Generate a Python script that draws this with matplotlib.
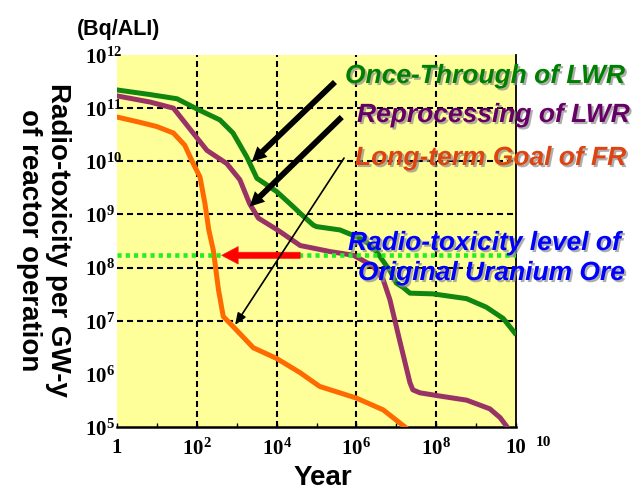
import matplotlib
matplotlib.use('Agg')
import matplotlib.pyplot as plt
import matplotlib.patheffects as pe
from matplotlib.ticker import NullLocator

plt.rcParams['mathtext.fontset'] = 'custom'
plt.rcParams['mathtext.rm'] = 'Liberation Serif:bold'
plt.rcParams['mathtext.it'] = 'Liberation Serif:bold:italic'
plt.rcParams['mathtext.bf'] = 'Liberation Serif:bold'

# Once-through of LWR
once_years = [1, 6.8, 32, 105, 380, 810, 1800, 3200, 1e4, 2.6e4, 3.9e4, 8.3e4, 1e5,
              3.9e5, 1.2e6, 1.8e6, 3.2e6, 5.8e6, 6.9e6, 1e7, 1.5e7, 2.2e7, 8.3e7,
              5.8e8, 1.8e9, 4.8e9, 9.3e9]
once_tox = [2.2e11, 1.8e11, 1.5e11, 9.5e10, 6e10, 3.4e10, 1.2e10, 4.8e9, 2.7e9, 1.4e9,
            1.05e9, 6.3e8, 5.9e8, 5.1e8, 3.6e8, 3e8, 2e8, 1.05e8, 8.9e7, 5.1e7, 4.2e7,
            3.3e7, 3.2e7, 2.6e7, 1.8e7, 1.1e7, 5.9e6]

# Reprocessing of LWR
repro_years = [1, 6.8, 26, 81, 180, 560, 1200, 2100, 3500, 1.1e4, 3.9e4, 2.2e5, 8.5e5,
               2.6e6, 4.7e6, 6.9e6, 1.2e7, 2.2e7, 2.6e7, 3.9e7, 1.3e8, 5.8e8, 2.2e9,
               4e9, 6e9]
repro_tox = [1.7e11, 1.3e11, 1e11, 3.4e10, 1.6e10, 9.1e9, 4.5e9, 1.6e9, 8.5e8, 5e8,
             2.6e8, 2e8, 1.7e8, 1.07e8, 5.9e7, 2.5e7, 4.4e6, 6.8e5, 5e5, 4.4e5, 3.8e5,
             3.2e5, 2.2e5, 1.5e5, 1e5]

# Long-term goal of FR
fr_years = [1, 3.8, 10, 26, 50, 81, 120, 160, 200, 260, 350, 460, 810, 2600, 1e4,
            3.9e4, 1.2e5, 1e6, 4.7e6, 1.8e7]
fr_tox = [6.8e10, 5.4e10, 4.5e10, 3.4e10, 2e10, 9.1e9, 5.1e9, 1.6e9, 5.1e8, 2.1e8,
          3.8e7, 1.2e7, 7.8e6, 3.1e6, 1.95e6, 1.05e6, 5.8e5, 3.5e5, 2.1e5, 9.5e4]

ore_level = 1.7e8
red_arrow = [(3.9e4, ore_level), (420, ore_level)]
black_arrows = [((2.9e5, 3.1e11), (2400, 9.8e9)),
                ((4.3e5, 6.8e10), (2100, 1.4e9))]
thin_arrow = ((4.9e5, 1.15e10), (910, 8.3e6))

x_ticks = [10.0 ** k for k in range(11)]
x_labels = ['1', '', r'$10^{2}$', '', r'$10^{4}$', '', r'$10^{6}$', '', r'$10^{8}$', '', '10']
y_ticks = [10.0 ** k for k in range(5, 13)]
y_labels = [r'$10^{%d}$' % k for k in range(5, 13)]
grid_x = [1e2, 1e4, 1e6, 1e8]
grid_y = [1e7, 1e8, 1e9, 1e10, 1e11]


def fx(x):
    return x / 633


def fy(y):
    return 1 - y / 494


fig = plt.figure(figsize=(6.33, 4.94), dpi=100)
ax = fig.add_axes([117 / 633, 67 / 494, 399 / 633, 372 / 494])
ax.set_facecolor('#FFFF99')
ax.set_xscale('log')
ax.set_yscale('log')
ax.set_xlim(1, 1e10)
ax.set_ylim(1e5, 1e12)

for gx in grid_x:
    ax.axvline(gx, color='k', lw=1.5, ls=(0, (2.9, 1.9)), zorder=1)
for gy in grid_y:
    ax.axhline(gy, color='k', lw=1.5, ls=(0, (2.9, 1.9)), zorder=1)

ax.plot(once_years, once_tox, color='#108510', lw=3.6, zorder=3)
ax.plot(repro_years, repro_tox, color='#993366', lw=3.6, zorder=3)
ax.plot(fr_years, fr_tox, color='#FF6A00', lw=3.6, zorder=3)

ax.axhline(ore_level, color='#22EE22', lw=3.3, ls=(0, (0.9, 0.9)), zorder=4)

ax.annotate('', xy=red_arrow[1], xytext=red_arrow[0],
            arrowprops=dict(arrowstyle='simple,head_length=0.85,head_width=0.9,tail_width=0.32',
                            mutation_scale=14, fc='#FF0000', ec='#FF2020', lw=0.5,
                            shrinkA=0, shrinkB=0), zorder=5)
for start, tip in black_arrows:
    ax.annotate('', xy=tip, xytext=start,
                arrowprops=dict(arrowstyle='simple,head_length=0.75,head_width=0.75,tail_width=0.3',
                                mutation_scale=14, fc='k', ec='k', lw=0,
                                shrinkA=0, shrinkB=0), zorder=5)
ax.annotate('', xy=thin_arrow[1], xytext=thin_arrow[0],
            arrowprops=dict(arrowstyle='-|>,head_length=0.5,head_width=0.2',
                            mutation_scale=14, color='k', lw=1.2,
                            shrinkA=0, shrinkB=0), zorder=5)

# axes styling
for side in ['left', 'top']:
    ax.spines[side].set_visible(False)
ax.spines['bottom'].set_linewidth(1.8)
ax.spines['right'].set_linewidth(1.3)

ax.set_xticks(x_ticks)
ax.set_xticklabels(x_labels, fontfamily='Liberation Serif', fontweight='bold', fontsize=15)
ax.set_yticks(y_ticks)
ax.set_yticklabels(y_labels, fontsize=15)
ax.xaxis.set_minor_locator(NullLocator())
ax.yaxis.set_minor_locator(NullLocator())
ax.tick_params(axis='x', direction='in', length=3, width=1, pad=8, top=False)
ax.tick_params(axis='y', length=0, pad=23)
for lab in ax.get_yticklabels():
    lab.set_ha('left')
ax.annotate('10', xy=(1e10, 0), xycoords=('data', 'axes fraction'), xytext=(20, -11.5),
            textcoords='offset points', ha='center', va='center',
            fontfamily='Liberation Serif', fontweight='bold', fontsize=11)

shadow = [pe.withSimplePatchShadow(offset=(1.5, -1.5), shadow_rgbFace='0.55', alpha=0.7)]
label_font = dict(family='Liberation Sans', weight='bold', style='italic', size=19,
                  va='baseline', ha='left', path_effects=shadow)
fig.text(fx(345), fy(83), 'Once-Through of LWR', color='#008000', **label_font)
fig.text(fx(357), fy(122), 'Reprocessing of LWR', color='#660066', **label_font)
fig.text(fx(355), fy(165), 'Long-term Goal of FR', color='#DD4411', **label_font)
fig.text(fx(348), fy(250), 'Radio-toxicity level of', color='#0000FF', **label_font)
fig.text(fx(358), fy(280), 'Original Uranium Ore', color='#0000FF', **label_font)

fig.text(fx(77), fy(30), '(Bq/ALI)', family='Liberation Sans', weight='bold', size=15.5,
         ha='left', va='center')
fig.text(fx(323), fy(478), 'Year', family='Liberation Sans', weight='bold', size=20,
         ha='center', va='center')
fig.text(fx(43), fy(240), 'Radio-toxicity per GW-y\nof reactor operation',
         family='Liberation Sans', weight='bold', size=20, rotation=270,
         ha='center', va='center', multialignment='center', linespacing=1.15)

fig.savefig('out.png', dpi=100)
